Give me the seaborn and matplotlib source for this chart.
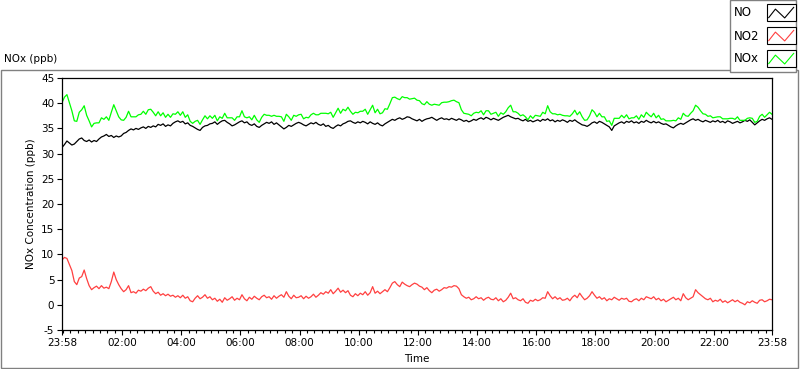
import numpy as np
import pandas as pd
import seaborn as sns
import matplotlib.pyplot as plt
import matplotlib.dates as mdates
from matplotlib.patches import Rectangle
from matplotlib.lines import Line2D

# 24 h of 5-minute readings, 23:58 -> 23:58 (one hour per row)
start = "2024-03-18 23:58"
end = "2024-03-19 23:58"

no = [
    31.2, 31.8, 32.5, 32.1, 31.7, 31.9, 32.4, 32.9, 33.1, 32.6, 32.4, 32.7,
    32.3, 32.6, 32.4, 32.9, 33.3, 33.5, 33.8, 33.4, 33.6, 33.2, 33.5, 33.3,
    33.5, 34.0, 34.2, 34.6, 34.9, 34.7, 35.0, 34.8, 35.1, 35.3, 35.0, 35.4,
    35.2, 35.5, 35.3, 35.8, 35.6, 35.9, 35.4, 35.7, 35.5, 36.0, 36.3, 36.5,
    36.2, 36.4, 35.9, 36.1, 35.6, 35.4, 35.1, 34.8, 34.6, 35.2, 35.5, 35.6,
    35.9, 36.0, 36.3, 35.8, 36.2, 36.5, 36.6, 36.2, 35.9, 35.5, 35.7, 36.0,
    36.3, 36.5, 36.1, 36.3, 35.8, 35.6, 35.9, 35.4, 35.2, 35.6, 35.9, 36.2,
    36.0, 36.3, 35.8, 36.1, 35.7, 35.3, 34.9, 35.2, 35.6, 35.4, 35.7, 36.0,
    36.2, 36.0, 35.7, 35.5, 35.8, 36.1, 35.9, 36.2, 35.8, 35.6, 35.9, 35.4,
    35.6, 35.2, 35.0, 35.4, 35.7, 35.5, 35.9, 36.1, 36.4, 36.5, 36.2, 36.0,
    36.3, 36.1, 36.4, 36.2, 35.9, 36.3, 36.0, 35.8, 36.1, 35.7, 35.5, 35.9,
    36.2, 36.5, 36.8, 36.6, 36.9, 37.1, 36.8, 37.0, 37.3, 37.2, 36.9, 36.7,
    36.5, 36.8, 36.4, 36.7, 36.9, 37.0, 37.2, 36.9, 36.6, 36.9, 37.1, 36.8,
    36.9, 36.7, 37.0, 36.8, 36.6, 36.9, 36.7, 36.4, 36.6, 36.3, 36.5, 36.8,
    36.6, 36.9, 37.1, 36.8, 37.2, 37.0, 36.7, 37.0, 36.8, 36.6, 36.9, 37.2,
    37.4, 37.6, 37.3, 37.1, 36.9, 37.0, 36.7, 36.5, 36.8, 36.4, 36.6, 36.3,
    36.5, 36.7, 36.4, 36.8, 36.6, 36.9, 36.5, 36.7, 36.3, 36.6, 36.4, 36.7,
    36.5, 36.2, 36.6, 36.4, 36.7, 36.3, 36.0, 35.7, 35.6, 35.4, 35.7, 36.1,
    36.3, 36.0, 36.4, 36.2, 35.9, 35.6, 35.3, 34.6, 35.5, 35.8, 36.1, 36.3,
    36.0, 36.4, 36.2, 36.5, 36.1, 36.3, 36.0, 36.4, 36.2, 36.6, 36.3, 36.1,
    36.4, 36.1, 36.3, 36.0, 35.8, 35.9, 35.6, 35.3, 35.1, 35.5, 35.8, 36.0,
    35.8, 36.1, 36.4, 36.7, 36.9, 36.6, 36.8, 36.5, 36.3, 36.6, 36.4, 36.2,
    36.5, 36.3, 36.6, 36.2, 36.4, 36.1, 36.5, 36.3, 36.0, 36.2, 36.4, 36.1,
    36.3, 36.6, 36.4, 36.7, 36.2, 35.7, 36.1, 36.5, 36.8, 36.6, 36.9, 37.1,
    36.8,
]

no2 = [
    8.9, 9.4, 9.2, 8.0, 6.8, 4.6, 4.0, 5.3, 5.6, 6.9, 5.2, 3.8,
    3.0, 3.4, 3.7, 3.2, 3.8, 3.3, 3.5, 3.2, 4.6, 6.5, 5.0, 4.0,
    3.2, 2.6, 3.0, 3.8, 2.4, 2.6, 2.3, 2.9, 2.7, 3.1, 2.8, 3.3,
    3.6, 2.7, 2.2, 2.5, 1.9, 2.2, 1.8, 2.1, 1.7, 1.9, 1.5, 1.8,
    1.4, 1.9, 1.3, 1.6, 0.8, 0.6, 1.3, 1.8, 1.2, 1.5, 2.0, 1.3,
    1.6, 1.0, 1.3, 0.7, 1.1, 0.5, 1.4, 0.9, 1.2, 1.6, 0.9, 1.3,
    1.0, 2.0, 1.2, 0.8, 1.5, 1.1, 1.7, 1.3, 1.0, 1.6, 1.9, 1.4,
    1.6, 1.1, 1.8, 1.3, 1.7, 2.0, 1.5, 2.6, 1.7, 1.2, 1.9, 1.4,
    1.5, 1.8, 1.2, 1.7, 1.3, 1.6, 2.1, 1.5, 1.9, 2.4, 2.1, 2.6,
    2.3, 3.0, 2.2, 2.7, 3.3, 2.5, 2.9, 2.4, 2.8, 1.9, 1.6, 2.2,
    1.8, 2.3, 2.0, 2.6, 1.9, 2.4, 3.6, 2.3, 2.7, 2.2, 2.6, 3.0,
    2.6, 3.4, 4.3, 4.6, 4.0, 3.6, 4.5, 4.1, 3.8, 3.6, 4.0, 4.3,
    4.1, 3.7, 3.5, 3.0, 3.4, 2.8, 2.4, 2.9, 3.1, 2.7, 3.0, 3.4,
    3.3, 3.6, 3.5, 3.8, 3.7, 3.2, 2.0, 1.6, 1.3, 1.5, 1.0, 1.2,
    1.6, 1.2, 1.4, 0.9, 1.3, 1.5, 1.1, 1.0, 1.4, 0.8, 1.2, 0.6,
    0.9, 1.5, 2.3, 1.2, 1.4, 1.0, 0.8, 1.2, 0.5, 0.3, 0.9, 0.7,
    1.1, 0.8, 1.0, 1.4, 1.3, 2.6, 1.8, 1.2, 1.6, 1.1, 1.4, 0.9,
    1.0, 1.3, 0.8, 1.5, 1.9, 1.4, 2.3, 1.6, 1.0, 1.3, 1.8, 2.6,
    1.9, 1.3, 1.6, 1.1, 1.4, 0.8, 1.2, 1.0, 1.5, 1.2, 0.9, 1.3,
    1.1, 1.3, 0.7, 0.6, 1.0, 1.2, 0.8, 1.3, 1.0, 1.6, 1.4, 1.2,
    1.6, 1.0, 1.3, 0.8, 1.1, 0.6, 0.9, 1.2, 1.5, 1.0, 1.3, 0.8,
    2.2, 1.4, 1.0, 1.3, 1.6, 3.0, 2.4, 2.0, 1.6, 1.2, 1.0, 1.3,
    0.6, 0.9, 0.7, 1.1, 0.5, 0.8, 0.4, 0.7, 1.0, 0.6, 0.9, 0.5,
    0.3, 0.0, 0.6, 0.4, 0.8, 0.5, 0.3, 0.9, 1.0, 0.6, 0.8, 1.1,
    1.0,
]

nox = [
    40.1, 41.2, 41.7, 40.1, 38.5, 36.5, 36.4, 38.2, 38.7, 39.5, 37.6, 36.5,
    35.3, 36.0, 36.1, 36.1, 37.1, 36.8, 37.3, 36.6, 38.2, 39.7, 38.5, 37.3,
    36.7, 36.6, 37.2, 38.4, 37.3, 37.3, 37.3, 37.7, 37.8, 38.4, 37.8, 38.7,
    38.8, 38.2, 37.5, 38.3, 37.5, 38.1, 37.2, 37.8, 37.2, 37.9, 37.8, 38.3,
    37.6, 38.3, 37.2, 37.7, 36.4, 36.0, 36.4, 36.6, 35.8, 36.7, 37.5, 36.9,
    37.5, 37.0, 37.6, 36.5, 37.3, 37.0, 38.0, 37.1, 37.1, 37.1, 36.6, 37.3,
    37.3, 38.5, 37.3, 37.1, 37.3, 36.7, 37.6, 36.7, 36.2, 37.2, 37.8, 37.6,
    37.6, 37.4, 37.6, 37.4, 37.4, 37.3, 36.4, 37.8, 37.3, 36.6, 37.6, 37.4,
    37.7, 37.8, 36.9, 37.2, 37.1, 37.7, 38.0, 37.7, 37.7, 38.0, 38.0, 38.0,
    37.9, 38.2, 37.2, 38.1, 39.0, 38.0, 38.8, 38.5, 39.2, 38.4, 37.8, 38.2,
    38.1, 38.4, 38.4, 38.8, 37.8, 38.7, 39.6, 38.1, 38.8, 37.9, 38.1, 38.9,
    38.8, 39.9, 41.1, 41.2, 40.9, 40.7, 41.3, 41.1, 41.1, 40.8, 40.9, 41.0,
    40.6, 40.5, 39.9, 39.7, 40.3, 39.8, 39.6, 39.8, 39.7, 39.6, 40.1, 40.2,
    40.2, 40.3, 40.5, 40.6, 40.3, 40.1, 38.7, 38.0, 37.9, 37.8, 37.5, 38.0,
    38.2, 38.1, 38.5, 37.7, 38.5, 38.5, 37.8, 38.0, 38.2, 37.4, 38.1, 37.8,
    38.3, 39.1, 39.6, 38.3, 38.3, 38.0, 37.5, 37.7, 37.3, 36.7, 37.5, 37.0,
    37.6, 37.5, 37.4, 38.2, 37.9, 39.5, 38.3, 37.9, 37.9, 37.7, 37.8, 37.6,
    37.5, 37.5, 37.4, 37.9, 38.6, 37.7, 38.3, 37.3, 36.6, 36.7, 37.5, 38.7,
    38.2, 37.3, 38.0, 37.3, 37.3, 36.4, 36.5, 35.6, 37.0, 37.0, 37.0, 37.6,
    37.1, 37.7, 36.9, 37.1, 37.1, 37.5, 36.8, 37.7, 37.2, 38.2, 37.7, 37.3,
    38.0, 37.1, 37.6, 36.8, 36.9, 36.5, 36.5, 36.5, 36.6, 36.5, 37.1, 36.8,
    38.0, 37.5, 37.4, 38.0, 38.5, 39.6, 39.2, 38.5, 37.9, 37.8, 37.4, 37.5,
    37.1, 37.2, 37.3, 37.3, 36.9, 36.9, 36.9, 37.0, 37.0, 36.8, 37.3, 36.6,
    36.6, 36.6, 37.0, 37.1, 37.0, 36.2, 36.4, 37.4, 37.8, 37.2, 37.7, 38.2,
    37.8,
]

series_names = ["NO", "NO2", "NOx"]
series_colors = ["#000000", "#ff4040", "#00ff00"]
y_ticks = list(range(-5, 50, 5))
x_tick_hours = ["02:00", "04:00", "06:00", "08:00", "10:00", "12:00",
                "14:00", "16:00", "18:00", "20:00", "22:00"]

times = pd.date_range(start, end, freq="5min")
df = pd.DataFrame({"Time": times, "NO": no, "NO2": no2, "NOx": nox})
long_df = df.melt(id_vars="Time", var_name="series", value_name="ppb")

plt.rcParams["font.family"] = ["DejaVu Sans"]
plt.rcParams["font.size"] = 7.5
plt.rcParams["axes.unicode_minus"] = False

W, H = 800, 369
fig = plt.figure(figsize=(W / 100, H / 100), dpi=100)


def fx(px):
    return px / W


def fy(py):
    return 1 - py / H


# grey panel frame
fig.add_artist(Rectangle((fx(0.5), fy(367.5)), fx(797), (367 - 69) / H,
                         transform=fig.transFigure, fill=False,
                         edgecolor="#808080", lw=1))

ax = fig.add_axes([fx(62), fy(330), fx(710), (330 - 78) / H])
sns.lineplot(data=long_df, x="Time", y="ppb", hue="series",
             hue_order=series_names,
             palette=dict(zip(series_names, series_colors)),
             estimator=None, lw=0.9, legend=False, ax=ax)

t0, t1 = pd.Timestamp(start), pd.Timestamp(end)
ax.set_xlim(t0, t1)
ax.set_ylim(-5, 45)
ax.set_yticks(y_ticks)

day = t1.strftime("%Y-%m-%d")
majors = [t0] + [pd.Timestamp(f"{day} {h}") for h in x_tick_hours] + [t1]
ax.set_xticks(majors)
ax.xaxis.set_major_formatter(mdates.DateFormatter("%H:%M"))
ax.xaxis.set_minor_locator(mdates.MinuteLocator(byminute=[0, 15, 30, 45]))
ax.tick_params(axis="both", which="major", length=3.5, width=0.8,
               colors="black", labelsize=7.5, pad=2)
ax.tick_params(axis="x", which="minor", length=2, width=0.8)
for s in ax.spines.values():
    s.set_color("black")
    s.set_linewidth(0.9)

ax.set_xlabel("Time", fontsize=7.5)
ax.set_ylabel("NOx Concentration (ppb)", fontsize=7.5)
ax.xaxis.set_label_coords(0.5, -0.095)
ax.yaxis.set_label_coords(-0.036, 0.5)

fig.text(fx(4), fy(59), "NOx (ppb)", fontsize=7.5, va="center", ha="left")

# legend panel in the top-right corner
fig.add_artist(Rectangle((fx(730), fy(72)), fx(66), 72 / H,
                         transform=fig.transFigure, facecolor="white",
                         edgecolor="#808080", lw=1, zorder=5))
zig_x = np.array([0.06, 0.29, 0.61, 0.92])
zig_y = np.array([0.2, 0.7, 0.18, 0.8])
for i, (name, col) in enumerate(zip(series_names, series_colors)):
    top = 4 + i * 23
    fig.text(fx(734), fy(top + 9), name, fontsize=8.5, va="center",
             ha="left", zorder=6)
    fig.add_artist(Rectangle((fx(767), fy(top + 17)), fx(29), 17 / H,
                             transform=fig.transFigure, facecolor="white",
                             edgecolor="black", lw=0.8, zorder=6))
    fig.add_artist(Line2D(fx(767) + zig_x * fx(29),
                          fy(top + 17) + zig_y * 17 / H,
                          transform=fig.transFigure, color=col, lw=0.8,
                          zorder=7))

fig.savefig("out.png", dpi=100)
